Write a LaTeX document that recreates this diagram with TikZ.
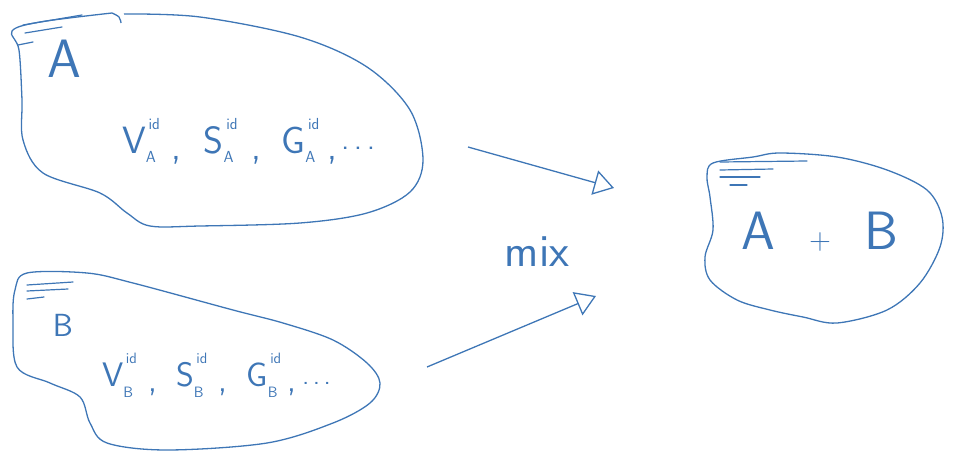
\documentclass[tikz,border=0pt]{standalone}
\usetikzlibrary{arrows.meta}
\definecolor{ink}{RGB}{62,118,182}
\newcommand\qsA[1]{#1\rlap{\raisebox{24pt}{\fontsize{16}{16}\selectfont\,id}}\raisebox{-9pt}{\fontsize{16}{16}\selectfont A}}
\newcommand\qsB[1]{#1\rlap{\raisebox{23pt}{\fontsize{15}{15}\selectfont\,id}}\raisebox{-11pt}{\fontsize{15}{15}\selectfont B}}
\tikzset{
  blob/.style={draw=ink, line width=1.3pt, line join=round},
  hatch/.style={draw=ink, line width=1.2pt, line cap=round},
  flow/.style={draw=ink, line width=1.3pt, -{Triangle[open, length=20pt, width=25pt, line width=1.3pt]}},
  lbl/.style={text=ink, inner sep=0pt, font=\sffamily},
}
\begin{document}
\begin{tikzpicture}[x=1pt,y=-1pt]
\useasboundingbox (0,0) rectangle (979,455);
% blob A
\draw[blob] plot[smooth, tension=0.6] coordinates {(112,13) (119,17) (121,23)};
\draw[blob] plot[smooth, tension=0.55] coordinates {(124,14) (200,17) (300,37) (367,67) (410,110) (423,160) (410,192) (367,213) (300,223) (200,226) (150,226) (127,213) (100,193) (43,173) (23,140) (22,100) (19,50) (12,31) (40,22) (112,13)};
\draw[hatch] (23,25) -- (82,15);
\draw[hatch] (25,33) -- (62,27);
\draw[hatch] (18,45) -- (33,42);
% blob B
\draw[blob] plot[smooth cycle, tension=0.55] coordinates {(27,273) (87,273) (133,283) (233,310) (283,323) (333,340) (367,363) (380,383) (370,403) (333,423) (267,443) (167,450) (107,443) (90,423) (80,397) (50,383) (17,367) (13,320) (15,290)};
\draw[hatch] (27,285) -- (73,282);
\draw[hatch] (27,291) -- (68,289);
\draw[hatch] (27,299) -- (44,297);
% blob A+B
\draw[blob] plot[smooth cycle, tension=0.55] coordinates {(713,163) (753,157) (780,153) (837,157) (887,170) (927,190) (942,217) (940,247) (920,283) (887,310) (837,323) (803,317) (770,310) (737,300) (710,280) (705,257) (713,230) (710,197) (707,177)};
\draw[hatch] (720,162) -- (807,161);
\draw[hatch] (720,170) -- (773,169);
\draw[hatch] (720,177) -- (760,177);
\draw[hatch] (730,185) -- (747,185);
% labels
\node[lbl, font=\sffamily\fontsize{54}{60}\selectfont] (la) at (64,59) {A};
\node[lbl, font=\sffamily\fontsize{32}{36}\selectfont] (lb) at (63,325) {B};
\node[lbl, font=\sffamily\fontsize{38}{44}\selectfont, anchor=base west] (fa) at (122,153)
  {\qsA{V}\hspace{16pt}\raisebox{-6pt}{,}\hspace{22pt}\qsA{S}\hspace{18pt}\raisebox{-6pt}{,}\hspace{20pt}\qsA{G}\hspace{12pt}\raisebox{-6pt}{,}\hspace{4pt}{\fontsize{30}{30}\selectfont\raisebox{4pt}{.\kern5pt.\kern5pt.}}};
\node[lbl, font=\sffamily\fontsize{34}{40}\selectfont, anchor=base west] (fb) at (102,386)
  {\qsB{V}\hspace{15pt}\raisebox{-5pt}{,}\hspace{19pt}\qsB{S}\hspace{15pt}\raisebox{-5pt}{,}\hspace{19pt}\qsB{G}\hspace{10pt}\raisebox{-5pt}{,}\hspace{6pt}{\fontsize{26}{26}\selectfont\raisebox{2pt}{.\kern4pt.\kern4pt.}}};
\node[lbl, font=\sffamily\fontsize{54}{60}\selectfont] (lab) at (820,232) {A\ \ {\fontsize{30}{34}\selectfont +}\ \ B};
\node[lbl, font=\sffamily\fontsize{46}{52}\selectfont] (mix) at (537,252) {mix};
% arrows
\coordinate (a1) at (468,147);
\coordinate (a2) at (614,188);
\coordinate (b1) at (427,367);
\coordinate (b2) at (596,296);
\draw[flow] (a1) -- (a2);
\draw[flow] (b1) -- (b2);
\end{tikzpicture}
\end{document}
